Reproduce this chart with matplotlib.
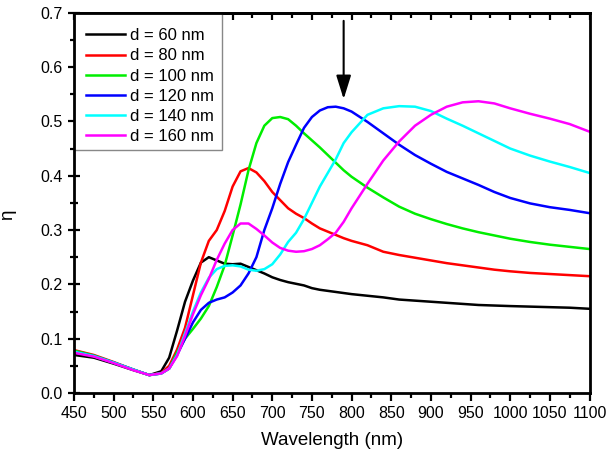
import matplotlib
matplotlib.use("Agg")
import matplotlib.pyplot as plt
from matplotlib.patches import Rectangle
from matplotlib.ticker import MultipleLocator, FormatStrFormatter

plt.rcParams['font.family'] = ['Liberation Sans', 'DejaVu Sans']

# wavelength grid (nm)
wl = [450, 475, 500, 525, 545, 560, 570, 580, 590, 600, 610, 620, 630, 640, 650,
      660, 670, 680, 690, 700, 710, 720, 730, 740, 750, 760, 770, 780, 790, 800,
      820, 840, 860, 880, 900, 920, 940, 960, 980, 1000, 1025, 1050, 1075, 1100]

eta_60 = [0.070, 0.065, 0.054, 0.042, 0.033, 0.040, 0.065, 0.115, 0.168, 0.207,
          0.240, 0.250, 0.244, 0.238, 0.237, 0.238, 0.232, 0.226, 0.220, 0.213,
          0.208, 0.204, 0.201, 0.198, 0.193, 0.190, 0.188, 0.186, 0.184, 0.182,
          0.179, 0.176, 0.172, 0.170, 0.168, 0.166, 0.164, 0.162, 0.161, 0.160,
          0.159, 0.158, 0.157, 0.155]
eta_80 = [0.079, 0.070, 0.057, 0.043, 0.033, 0.037, 0.050, 0.080, 0.120, 0.180,
          0.240, 0.280, 0.300, 0.335, 0.380, 0.408, 0.414, 0.406, 0.390, 0.370,
          0.355, 0.340, 0.330, 0.322, 0.312, 0.303, 0.297, 0.291, 0.285, 0.280,
          0.272, 0.260, 0.254, 0.249, 0.244, 0.239, 0.235, 0.231, 0.227, 0.224,
          0.221, 0.219, 0.217, 0.215]
eta_100 = [0.078, 0.069, 0.056, 0.043, 0.033, 0.036, 0.045, 0.075, 0.100, 0.118,
           0.137, 0.160, 0.195, 0.235, 0.290, 0.347, 0.410, 0.460, 0.492, 0.506,
           0.508, 0.504, 0.492, 0.478, 0.465, 0.452, 0.438, 0.424, 0.410, 0.398,
           0.378, 0.360, 0.343, 0.330, 0.320, 0.311, 0.303, 0.296, 0.290, 0.284,
           0.278, 0.273, 0.269, 0.265]
eta_120 = [0.076, 0.068, 0.056, 0.043, 0.033, 0.036, 0.045, 0.070, 0.100, 0.130,
           0.153, 0.166, 0.172, 0.176, 0.185, 0.198, 0.220, 0.250, 0.300, 0.340,
           0.385, 0.425, 0.457, 0.488, 0.508, 0.520, 0.526, 0.527, 0.524, 0.518,
           0.499, 0.478, 0.457, 0.438, 0.422, 0.407, 0.395, 0.383, 0.370, 0.359,
           0.349, 0.342, 0.337, 0.331]
eta_140 = [0.076, 0.068, 0.056, 0.043, 0.033, 0.036, 0.045, 0.070, 0.110, 0.150,
           0.185, 0.212, 0.228, 0.234, 0.235, 0.233, 0.227, 0.225, 0.228, 0.237,
           0.255, 0.278, 0.295, 0.320, 0.350, 0.380, 0.405, 0.430, 0.460, 0.480,
           0.512, 0.524, 0.528, 0.527, 0.519, 0.505, 0.492, 0.478, 0.464, 0.450,
           0.437, 0.426, 0.416, 0.405]
eta_160 = [0.074, 0.067, 0.055, 0.042, 0.033, 0.036, 0.045, 0.068, 0.105, 0.145,
           0.180, 0.210, 0.245, 0.275, 0.300, 0.312, 0.312, 0.302, 0.290, 0.277,
           0.267, 0.262, 0.260, 0.261, 0.265, 0.272, 0.283, 0.295, 0.315, 0.340,
           0.385, 0.428, 0.463, 0.492, 0.512, 0.527, 0.535, 0.537, 0.533, 0.524,
           0.514, 0.505, 0.495, 0.481]

labels = ['d = 60 nm', 'd = 80 nm', 'd = 100 nm', 'd = 120 nm', 'd = 140 nm', 'd = 160 nm']
colors = ['black', 'red', '#00ee00', 'blue', 'cyan', 'magenta']
series = [eta_60, eta_80, eta_100, eta_120, eta_140, eta_160]

fig = plt.figure(figsize=(6.06, 4.59), dpi=100)
ax = fig.add_axes([74 / 606, 1 - 393 / 459, (589.5 - 74) / 606, (393 - 12.7) / 459])

for s, c, lab in zip(series, colors, labels):
    ax.plot(wl, s, color=c, lw=1.8, label=lab)

ax.annotate('', xy=(790, 0.541), xytext=(790, 0.685),
            arrowprops=dict(arrowstyle='-|>,head_length=0.8,head_width=0.25',
                            color='black', lw=1.5, mutation_scale=18,
                            shrinkA=0, shrinkB=0))

ax.set_xlim(450, 1100)
ax.set_ylim(0, 0.7)
ax.xaxis.set_major_locator(MultipleLocator(50))
ax.xaxis.set_minor_locator(MultipleLocator(25))
ax.yaxis.set_major_locator(MultipleLocator(0.1))
ax.yaxis.set_minor_locator(MultipleLocator(0.05))
ax.yaxis.set_major_formatter(FormatStrFormatter('%.1f'))

for sp in ax.spines.values():
    sp.set_linewidth(2)

ax.tick_params(axis='x', which='major', direction='out', length=6, width=1.6, labelsize=11.5, pad=3)
ax.tick_params(axis='x', which='minor', direction='out', length=3.5, width=1.6)
ax.tick_params(axis='y', which='major', direction='inout', length=9, width=1.6, labelsize=11.5)
ax.tick_params(axis='y', which='minor', direction='inout', length=6, width=1.6)

top = ax.secondary_xaxis('top')
top.xaxis.set_major_locator(MultipleLocator(50))
top.xaxis.set_minor_locator(MultipleLocator(25))
top.tick_params(which='major', direction='in', length=5, width=1.6, labeltop=False)
top.tick_params(which='minor', direction='in', length=3.5, width=1.6)
top.spines['top'].set_linewidth(2)

ax.set_xlabel('Wavelength (nm)', fontsize=13.5, labelpad=8)
ax.set_ylabel('η', fontsize=13.5, labelpad=12)
ax.yaxis.set_label_coords(-0.112, 0.47)

# legend frame in the Origin style: flush with the axes corner, under the spines
ax.add_patch(Rectangle((0, 0.639), 0.287, 0.361, transform=ax.transAxes,
                       facecolor='white', edgecolor='#888888', lw=1, zorder=2.2))
leg = ax.legend(loc='upper left', bbox_to_anchor=(0.023, 0.959), fontsize=12,
                frameon=False, borderaxespad=0, borderpad=0, handlelength=2.34,
                labelspacing=0.31, handletextpad=0.3)
leg.set_zorder(5)

fig.savefig('out.png', dpi=100)
